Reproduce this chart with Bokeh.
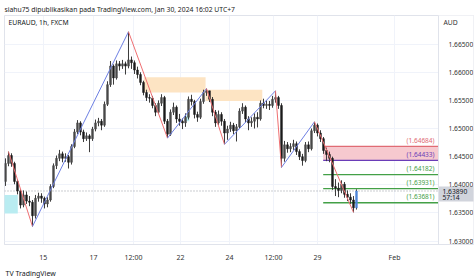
from bokeh.plotting import figure
from bokeh.models import Range1d, FixedTicker, Label, NumeralTickFormatter, Title
from bokeh.embed import file_html
from bokeh.resources import INLINE

# ---------------- data ----------------
first_open = 1.6406
closes = [1.6438, 1.6452, 1.6438, 1.6406, 1.6389, 1.6364, 1.6382, 1.6371, 1.6369, 1.6345,
          1.6376, 1.6380, 1.6376, 1.6366, 1.6373, 1.6397, 1.6434, 1.6447, 1.6455, 1.6447,
          1.6450, 1.6440, 1.6468, 1.6494, 1.6510, 1.6494, 1.6482, 1.6487, 1.6482, 1.6499,
          1.6510, 1.6513, 1.6506, 1.6543, 1.6578, 1.6611, 1.6590, 1.6615, 1.6611, 1.6615,
          1.6611, 1.6622, 1.6617, 1.6604, 1.6596, 1.6582, 1.6564, 1.6555, 1.6554, 1.6541,
          1.6529, 1.6545, 1.6555, 1.6513, 1.6490, 1.6529, 1.6538, 1.6517, 1.6513, 1.6510,
          1.6520, 1.6552, 1.6548, 1.6525, 1.6520, 1.6548, 1.6564, 1.6567, 1.6552, 1.6529,
          1.6510, 1.6525, 1.6513, 1.6492, 1.6499, 1.6506, 1.6496, 1.6503, 1.6531, 1.6538,
          1.6517, 1.6510, 1.6513, 1.6520, 1.6517, 1.6545, 1.6541, 1.6543, 1.6541, 1.6552,
          1.6555, 1.6541, 1.6447, 1.6471, 1.6464, 1.6468, 1.6473, 1.6459, 1.6450, 1.6443,
          1.6471, 1.6464, 1.6496, 1.6506, 1.6492, 1.6482, 1.6461, 1.6454, 1.6447, 1.6397,
          1.6394, 1.6390, 1.6401, 1.6383, 1.6378, 1.6373, 1.6359, 1.6389]
highs = [1.6447, 1.6459, 1.6456, 1.6441, 1.6410, 1.6392, 1.6390, 1.6388, 1.6380, 1.6373,
         1.6382, 1.6386, 1.6385, 1.6379, 1.6378, 1.6401, 1.6438, 1.6452, 1.6462, 1.6459,
         1.6456, 1.6453, 1.6472, 1.6499, 1.6515, 1.6513, 1.6498, 1.6493, 1.6490, 1.6503,
         1.6516, 1.6519, 1.6517, 1.6548, 1.6584, 1.6620, 1.6614, 1.6621, 1.6620, 1.6622,
         1.6619, 1.6672, 1.6628, 1.6621, 1.6610, 1.6600, 1.6585, 1.6569, 1.6561, 1.6558,
         1.6545, 1.6550, 1.6561, 1.6558, 1.6517, 1.6534, 1.6546, 1.6541, 1.6526, 1.6518,
         1.6527, 1.6557, 1.6560, 1.6551, 1.6530, 1.6553, 1.6569, 1.6571, 1.6567, 1.6556,
         1.6533, 1.6532, 1.6529, 1.6517, 1.6505, 1.6512, 1.6510, 1.6508, 1.6536, 1.6545,
         1.6541, 1.6522, 1.6520, 1.6527, 1.6529, 1.6550, 1.6553, 1.6550, 1.6549, 1.6558,
         1.6567, 1.6558, 1.6545, 1.6478, 1.6476, 1.6474, 1.6480, 1.6477, 1.6463, 1.6455,
         1.6476, 1.6477, 1.6500, 1.6512, 1.6509, 1.6497, 1.6485, 1.6466, 1.6459, 1.6450,
         1.6410, 1.6404, 1.6408, 1.6405, 1.6390, 1.6385, 1.6380, 1.6392]
lows = [1.6398, 1.6433, 1.6432, 1.6401, 1.6383, 1.6358, 1.6360, 1.6366, 1.6362, 1.6326,
        1.6340, 1.6370, 1.6368, 1.6358, 1.6360, 1.6370, 1.6394, 1.6428, 1.6442, 1.6440,
        1.6441, 1.6429, 1.6436, 1.6465, 1.6490, 1.6488, 1.6476, 1.6478, 1.6458, 1.6478,
        1.6495, 1.6504, 1.6497, 1.6503, 1.6540, 1.6574, 1.6578, 1.6587, 1.6603, 1.6606,
        1.6596, 1.6607, 1.6606, 1.6597, 1.6589, 1.6577, 1.6559, 1.6549, 1.6546, 1.6536,
        1.6522, 1.6526, 1.6540, 1.6508, 1.6483, 1.6487, 1.6524, 1.6510, 1.6505, 1.6499,
        1.6503, 1.6516, 1.6541, 1.6518, 1.6512, 1.6517, 1.6544, 1.6558, 1.6547, 1.6522,
        1.6503, 1.6506, 1.6505, 1.6472, 1.6480, 1.6494, 1.6490, 1.6477, 1.6499, 1.6526,
        1.6511, 1.6497, 1.6503, 1.6500, 1.6502, 1.6514, 1.6536, 1.6535, 1.6533, 1.6537,
        1.6546, 1.6535, 1.6431, 1.6441, 1.6457, 1.6458, 1.6462, 1.6453, 1.6444, 1.6434,
        1.6440, 1.6458, 1.6461, 1.6492, 1.6486, 1.6476, 1.6455, 1.6442, 1.6440, 1.6391,
        1.6380, 1.6378, 1.6385, 1.6377, 1.6371, 1.6366, 1.6351, 1.6356]

# zigzag pivots (candle index, high/low)
pivot_idx = [1, 9, 41, 54, 67, 73, 90, 92, 103, 116]
pivot_kind = ["H", "L", "H", "L", "H", "L", "H", "L", "H", "L"]

# supply / demand zones
zone_left = [-0.5, 60.0, 46.1, 66.7, 105.9]
zone_right = [4.1, 61.3, 66.7, 85.6, None]
zone_top = [1.6382, 1.6523, 1.6591, 1.6569, 1.64684]
zone_bottom = [1.6349, 1.6513, 1.6564, 1.6549, 1.64433]
zone_color = ["#b9ecf1", "#b9ecf1", "#fde4c3", "#fde4c3", "#f6c9cf"]

# target levels
levels = [1.64684, 1.64433, 1.64182, 1.63931, 1.63681]
level_color = ["#e06b74", "#6a3db8", "#43a047", "#43a047", "#43a047"]
level_start = 105.9

# axes
price_ticks = [1.630, 1.635, 1.640, 1.645, 1.650, 1.655, 1.660, 1.665]
time_tick_pos = [12.57, 29.33, 42.67, 58.33, 74.67, 89.33, 104.0, 129.67]
time_tick_lbl = ["15", "17", "12:00", "22", "24", "12:00", "29", "Feb"]
countdown = "57:14"

# ---------------- figure ----------------
W, H = 474, 279
FL, FR, FT, FB = 4, 473, 15, 247      # frame (whole chart box)
PAX = 438                              # pixel x of the price scale
IDX_PER_PX = 1 / 3.0
x0 = -0.33
x1 = x0 + (FR - FL) * IDX_PER_PX
y0, y1 = 1.62939, 1.67009

p = figure(width=W, height=H, output_backend="svg", toolbar_location=None,
           x_range=Range1d(x0, x1), y_range=Range1d(y0, y1),
           y_axis_location="right", title=None,
           min_border_left=FL, min_border_right=W - FR,
           min_border_top=FT, min_border_bottom=H - FB)
p.background_fill_color = "white"
p.border_fill_color = "white"
p.outline_line_color = "#e0e3eb"

def px(xpix):
    return x0 + (xpix - FL) * IDX_PER_PX

def py(ypix):
    return y1 - (ypix - FT) / (FB - FT) * (y1 - y0)

xp = px(PAX)
zone_right[-1] = xp

FONT = "Noto Sans"

# grid
p.xgrid.ticker = FixedTicker(ticks=time_tick_pos)
p.ygrid.ticker = FixedTicker(ticks=price_ticks)
p.xgrid.grid_line_color = "#f0f3fa"
p.ygrid.grid_line_color = "#f0f3fa"

# time axis
xa = p.xaxis[0]
xa.ticker = FixedTicker(ticks=time_tick_pos)
xa.major_label_overrides = {t: l for t, l in zip(time_tick_pos, time_tick_lbl)}
xa.major_tick_line_color = None
xa.minor_tick_line_color = None
xa.axis_line_color = "#e0e3eb"
xa.major_label_text_font = FONT
xa.major_label_text_font_size = "7px"
xa.major_label_text_color = "#333333"
xa.major_label_standoff = 2

# price axis drawn at the price-scale border inside the chart box
ya = p.yaxis[0]
ya.fixed_location = xp
ya.ticker = FixedTicker(ticks=price_ticks)
ya.formatter = NumeralTickFormatter(format="0.00000")
ya.major_tick_line_color = None
ya.minor_tick_line_color = None
ya.axis_line_color = "#e0e3eb"
ya.major_label_text_font = FONT
ya.major_label_text_font_size = "6.7px"
ya.major_label_text_color = "#333333"
ya.major_label_standoff = 4

# titles outside the chart box
p.add_layout(Title(text="siahu75 dipublikasikan pada TradingView.com, Jan 30, 2024 16:02 UTC+7",
                   align="left", text_font=FONT, text_font_size="6.8px", text_font_style="normal",
                   text_color="#222222", standoff=3, offset=0), "above")
p.add_layout(Title(text="TV  TradingView", align="left", text_font=FONT, text_font_size="7px",
                   text_font_style="normal", text_color="#131722", standoff=4, offset=1), "below")

# zones
p.quad(left=zone_left, right=zone_right, top=zone_top, bottom=zone_bottom,
       fill_color=zone_color, line_color=None)

# current price dotted line
p.segment(x0=[x0], x1=[xp], y0=[closes[-1]], y1=[closes[-1]], line_color="#9598a1",
          line_dash="1 2", line_width=1)

# level lines
p.segment(x0=[level_start] * len(levels), x1=[xp] * len(levels), y0=levels, y1=levels,
          line_color=level_color, line_width=1.3)

# candles
n = len(closes)
xs = list(range(n))
opens = [first_open] + closes[:-1]
p.segment(x0=xs, x1=xs, y0=lows, y1=highs, line_color="#3b3b3b", line_width=1)
body_top = [max(o, c) for o, c in zip(opens, closes)]
body_bot = [min(o, c) for o, c in zip(opens, closes)]
body_col = ["#1c1c1c" if c < o else "#4a4a4a" for o, c in zip(opens, closes)]
body_col[-1] = "#4f86d9"
p.vbar(x=xs, top=body_top, bottom=body_bot, width=0.62, fill_color=body_col, line_color=body_col,
       line_width=0.5)

# zigzag
zz_x = pivot_idx
zz_y = [highs[i] if k == "H" else lows[i] for i, k in zip(pivot_idx, pivot_kind)]
seg_col = ["#ef6f72" if zz_y[j + 1] < zz_y[j] else "#6d7fe3" for j in range(len(zz_x) - 1)]
p.segment(x0=zz_x[:-1], x1=zz_x[1:], y0=zz_y[:-1], y1=zz_y[1:], line_color=seg_col, line_width=1)

# mask the price-scale strip (grid lines stop at the scale)
p.quad(left=[xp], right=[x1 + 1], top=[y1 + 1], bottom=[y0 - 1], fill_color="white", line_color=None)
# current price tag background
p.quad(left=[xp], right=[x1 + 1], top=[py(188.3)], bottom=[py(203.5)],
       fill_color="#d1d4dc", line_color=None)

# level labels
for v, c in zip(levels, level_color):
    p.add_layout(Label(x=px(434), y=v, text=f"({v:.5f})", text_align="right",
                       text_baseline="bottom", y_offset=1.5, text_font=FONT,
                       text_font_size="6.5px", text_color=c))

p.add_layout(Label(x=px(8), y=py(22), text="EURAUD, 1h, FXCM", text_baseline="middle",
                   text_font=FONT, text_font_size="6.8px", text_color="#131722"))
p.add_layout(Label(x=px(443), y=py(22), text="AUD", text_baseline="middle",
                   text_font=FONT, text_font_size="6.8px", text_color="#333333"))

# current price tag texts
p.add_layout(Label(x=px(442), y=py(193.2), text=f"{closes[-1]:.5f}", text_baseline="middle",
                   text_font=FONT, text_font_size="6.7px", text_color="#131722"))
p.add_layout(Label(x=px(442), y=py(199.6), text=countdown, text_baseline="middle",
                   text_font=FONT, text_font_size="6.7px", text_color="#131722"))

open("out.html", "w").write(file_html(p, INLINE))
